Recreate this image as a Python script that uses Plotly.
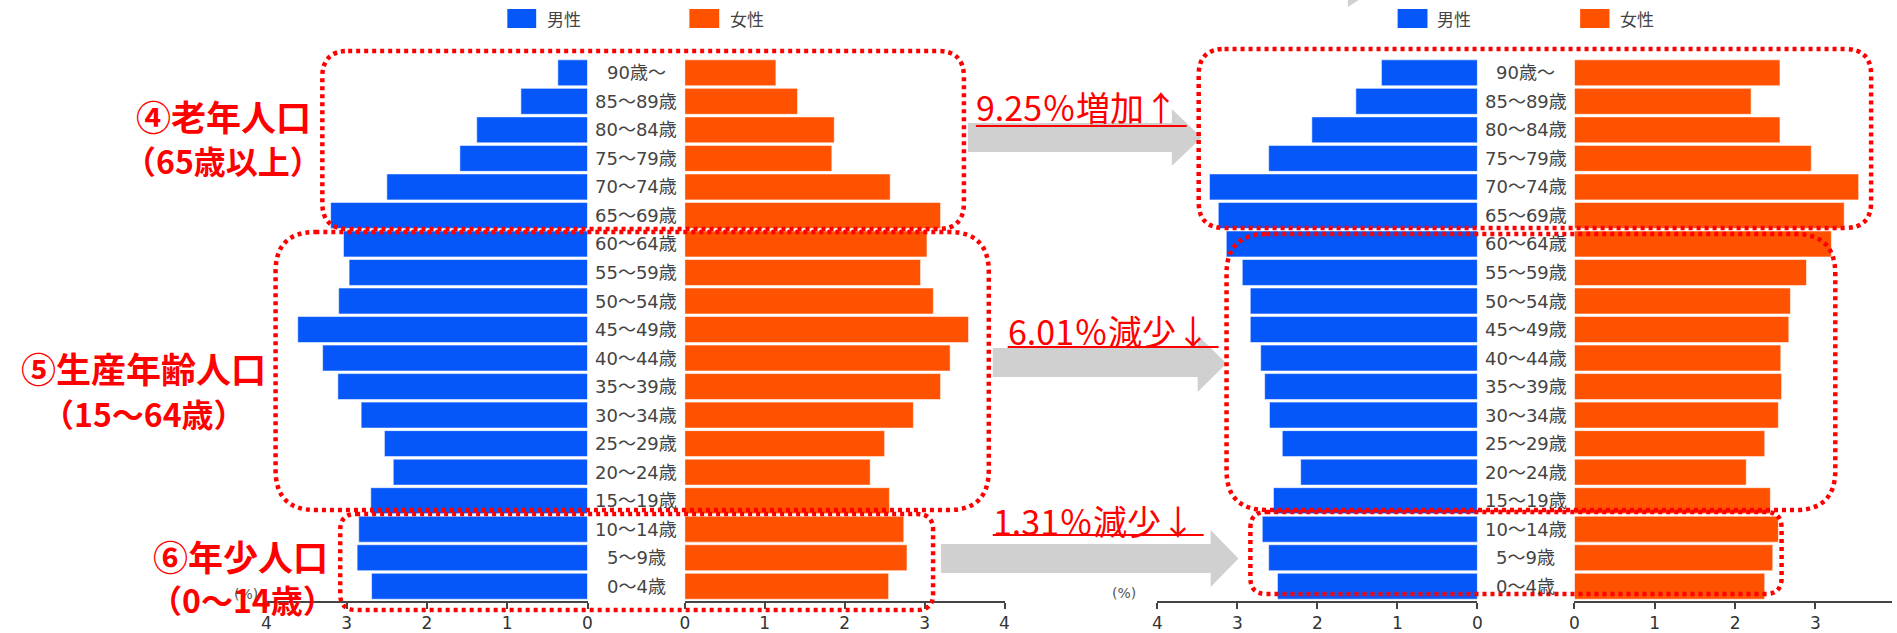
import plotly.graph_objects as go

# ---------------- data ----------------
ages = ["90歳～", "85～89歳", "80～84歳", "75～79歳", "70～74歳", "65～69歳",
        "60～64歳", "55～59歳", "50～54歳", "45～49歳", "40～44歳", "35～39歳",
        "30～34歳", "25～29歳", "20～24歳", "15～19歳", "10～14歳", "5～9歳", "0～4歳"]

left_male = [0.37, 0.83, 1.38, 1.59, 2.50, 3.20, 3.04, 2.97, 3.10, 3.61, 3.30, 3.11,
             2.82, 2.53, 2.42, 2.70, 2.85, 2.87, 2.69]
left_female = [1.14, 1.41, 1.87, 1.84, 2.57, 3.20, 3.03, 2.95, 3.11, 3.55, 3.32, 3.20,
               2.86, 2.50, 2.32, 2.56, 2.74, 2.78, 2.55]
right_male = [1.20, 1.52, 2.07, 2.61, 3.35, 3.24, 3.14, 2.94, 2.84, 2.84, 2.71, 2.66,
              2.60, 2.44, 2.21, 2.55, 2.69, 2.61, 2.50]
right_female = [2.56, 2.20, 2.56, 2.95, 3.54, 3.36, 3.20, 2.89, 2.69, 2.67, 2.57, 2.58,
                2.54, 2.37, 2.14, 2.44, 2.54, 2.47, 2.37]

tick_values = [0, 1, 2, 3, 4]
legend_labels = ["男性", "女性"]

group_lines = [("④老年人口", "（65歳以上）"),
               ("⑤生産年齢人口", "（15～64歳）"),
               ("⑥年少人口", "（0～14歳）")]
change_texts = ["9.25％増加↑", "6.01％減少↓", "1.31％減少↓"]

# ---------------- styling / layout helpers ----------------
W, H = 1897, 633
BLUE = "#0657FA"
ORANGE = "#FF5200"
RED = "#FF0000"
GRAY = "#D0D0D0"
CJK = "Noto Sans CJK JP"


def px(x):
    return x / W


def py(y):
    return 1 - y / H


def rrect(x0, y0, x1, y1, r):
    pts = [
        f"M {px(x0 + r)},{py(y0)}",
        f"L {px(x1 - r)},{py(y0)}",
        f"Q {px(x1)},{py(y0)} {px(x1)},{py(y0 + r)}",
        f"L {px(x1)},{py(y1 - r)}",
        f"Q {px(x1)},{py(y1)} {px(x1 - r)},{py(y1)}",
        f"L {px(x0 + r)},{py(y1)}",
        f"Q {px(x0)},{py(y1)} {px(x0)},{py(y1 - r)}",
        f"L {px(x0)},{py(y0 + r)}",
        f"Q {px(x0)},{py(y0)} {px(x0 + r)},{py(y0)}",
        "Z",
    ]
    return " ".join(pts)


def arrow(xb0, xh, xt, yb0, yb1, yh0, yh1):
    ym = (yh0 + yh1) / 2
    pts = [(xb0, yb0), (xh, yb0), (xh, yh0), (xt, ym), (xh, yh1), (xh, yb1), (xb0, yb1)]
    s = "M " + " L ".join(f"{px(a)},{py(b)}" for a, b in pts) + " Z"
    return s


fig = go.Figure()
for xa, vals, color in [("x", left_male, BLUE), ("x2", left_female, ORANGE),
                        ("x3", right_male, BLUE), ("x4", right_female, ORANGE)]:
    fig.add_trace(go.Bar(
        y=ages, x=vals, orientation="h", xaxis=xa, yaxis="y",
        marker=dict(color=color, line=dict(color="rgba(255,255,255,0.55)", width=1)),
        showlegend=False, hoverinfo="skip"))

common_x = dict(showgrid=False, zeroline=False, showline=True, linecolor="#444",
                linewidth=2, ticks="outside", ticklen=6, tickwidth=2, tickcolor="#444",
                tickfont=dict(size=17, color="#333", family="DejaVu Sans"),
                tickmode="array", tickvals=tick_values, anchor="y", fixedrange=True)

fig.update_layout(
    width=W, height=H,
    margin=dict(l=0, r=0, t=0, b=0),
    plot_bgcolor="white", paper_bgcolor="white",
    bargap=0.09,
    xaxis=dict(domain=[px(262.8), px(585.6)], range=[4, 0], **common_x),
    xaxis2=dict(domain=[px(683.4), px(1004.8)], range=[0, 4], **common_x),
    xaxis3=dict(domain=[px(1158.6), px(1480.2)], range=[4, 0], **common_x),
    xaxis4=dict(domain=[px(1577.8), 1.0], range=[0, (W - 1577.8) / 80.7], **common_x),
    yaxis=dict(domain=[py(600.5), py(58.55)], type="category", categoryorder="array",
               categoryarray=ages[::-1], range=[-0.5, 18.5], showticklabels=False,
               showgrid=False, zeroline=False, showline=False, ticks="", fixedrange=True),
)

annotations = []
shapes = []

# category labels centred between the halves of each pyramid
for cx in (634.5, 1529):
    for a in ages:
        annotations.append(dict(x=px(cx), xref="paper", y=a, yref="y", text=a,
                                showarrow=False, xanchor="center", yanchor="middle",
                                font=dict(size=18, color="#444", family="DejaVu Sans, " + CJK)))

# (%) labels
annotations.append(dict(x=px(228), y=py(604), xref="paper", yref="paper", text="(%)",
                        showarrow=False, font=dict(size=14, color="#555", family="DejaVu Sans")))
annotations.append(dict(x=px(1125), y=py(603), xref="paper", yref="paper", text="(%)",
                        showarrow=False, font=dict(size=14, color="#555", family="DejaVu Sans")))

# custom legends
for (bx, tx) in [((505, 534), 543), ((1400, 1430), 1438)]:
    shapes.append(dict(type="rect", xref="paper", yref="paper", x0=px(bx[0]), x1=px(bx[1]),
                       y0=py(28), y1=py(9), fillcolor=BLUE, line=dict(width=0)))
    annotations.append(dict(x=px(tx), y=py(18.5), xref="paper", yref="paper",
                            text=legend_labels[0], showarrow=False, xanchor="left",
                            yanchor="middle", font=dict(size=17, color="#444", family=CJK)))
for (bx, tx) in [((688, 718), 727), ((1583.5, 1613), 1622)]:
    shapes.append(dict(type="rect", xref="paper", yref="paper", x0=px(bx[0]), x1=px(bx[1]),
                       y0=py(28), y1=py(9), fillcolor=ORANGE, line=dict(width=0)))
    annotations.append(dict(x=px(tx), y=py(18.5), xref="paper", yref="paper",
                            text=legend_labels[1], showarrow=False, xanchor="left",
                            yanchor="middle", font=dict(size=17, color="#444", family=CJK)))

# gray arrows
for args in [(968, 1173, 1203, 123, 152, 109, 166),
             (993, 1199, 1228, 348, 377, 335, 392),
             (941, 1212, 1240, 544, 573, 530, 587)]:
    shapes.append(dict(type="path", xref="paper", yref="paper", path=arrow(*args),
                       fillcolor=GRAY, line=dict(width=0)))
# small gray tip at the top
shapes.append(dict(type="path", xref="paper", yref="paper",
                   path=f"M {px(1350)},{py(0)} L {px(1361)},{py(0)} L {px(1350)},{py(7)} Z",
                   fillcolor=GRAY, line=dict(width=0)))

# red dotted rounded boxes
dot = dict(color=RED, width=4.5, dash="4px,4px")
for (x0, y0, x1, y1, r) in [(319, 51, 964, 229, 26), (272, 232, 989, 510, 40),
                            (337, 514, 933, 610, 16),
                            (1200, 49, 1876, 228, 26), (1228, 234, 1840, 510, 40),
                            (1252, 512, 1786, 594, 16)]:
    shapes.append(dict(type="path", xref="paper", yref="paper", path=rrect(x0, y0, x1, y1, r),
                       line=dot, fillcolor="rgba(0,0,0,0)"))

# change texts with underlines
for txt, (xl, yc, yu, xr) in zip(change_texts, [(976, 107, 126, 1188),
                                                (1008, 330, 347, 1220),
                                                (993, 520, 535, 1205)]):
    annotations.append(dict(x=px(xl - 2), y=py(yc), xref="paper", yref="paper", text=txt,
                            showarrow=False, xanchor="left", yanchor="middle",
                            font=dict(size=34, color=RED, family=CJK)))
    shapes.append(dict(type="line", xref="paper", yref="paper", x0=px(xl), x1=px(xr),
                       y0=py(yu), y1=py(yu), line=dict(color=RED, width=2)))

# red group labels
for (l1, l2), (c1, c2) in zip(group_lines, [((220, 116), (219, 160)),
                                            ((139, 367), (140, 413)),
                                            ((236.5, 555), (238.5, 599))]):
    annotations.append(dict(x=px(c1[0]), y=py(c1[1]), xref="paper", yref="paper",
                            text="<b>" + l1 + "</b>", showarrow=False, xanchor="center",
                            yanchor="middle", font=dict(size=35, color=RED, family=CJK)))
    annotations.append(dict(x=px(c2[0]), y=py(c2[1]), xref="paper", yref="paper",
                            text="<b>" + l2 + "</b>", showarrow=False, xanchor="center",
                            yanchor="middle", font=dict(size=32, color=RED, family=CJK)))

fig.update_layout(annotations=annotations, shapes=shapes)
fig.write_html("out.html")
